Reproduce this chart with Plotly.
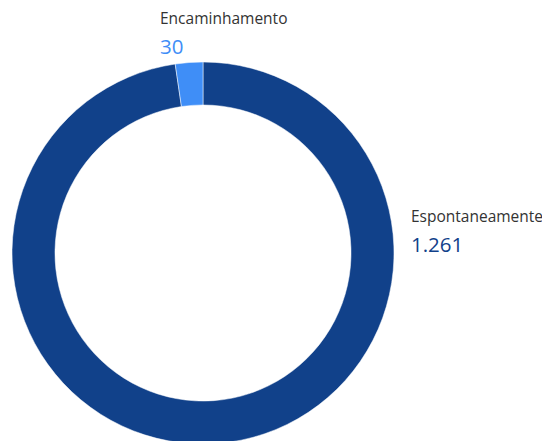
import plotly.graph_objects as go

categories = ["Espontaneamente", "Encaminhamento"]
values = [1261, 30]
value_labels = ["1.261", "30"]
colors = ["#11418A", "#3F8EF7"]

fig = go.Figure(go.Pie(
    labels=categories,
    values=values,
    hole=0.775,
    sort=False,
    direction="clockwise",
    rotation=0,
    marker=dict(colors=colors, line=dict(color="white", width=0.5)),
    textinfo="none",
    hoverinfo="label+value",
    showlegend=False,
))

font_family = "'Open Sans', Lato, sans-serif"
OFF = 8  # page body margin
label_pos = [(412 - OFF - 3, 209 - OFF - 6), (161 - OFF - 3, 11 - OFF - 6)]
for (px, py), cat, vl, col in zip(label_pos, categories, value_labels, colors):
    fig.add_annotation(x=px / 550, y=1 - py / 445, xref="paper", yref="paper",
                       xanchor="left", yanchor="top", text=cat, showarrow=False,
                       font=dict(family=font_family, size=15.5, color="#333333"))
    fig.add_annotation(x=px / 550, y=1 - (py + 25) / 445, xref="paper", yref="paper",
                       xanchor="left", yanchor="top", text=vl, showarrow=False,
                       font=dict(family=font_family, size=20.5, color=col))

fig.update_layout(
    width=550, height=445,
    margin=dict(l=0, r=0, t=0, b=0),
    paper_bgcolor="white", plot_bgcolor="white",
)
fig.data[0].domain = dict(x=[(12 - OFF) / 550, (394 - OFF) / 550],
                          y=[1 - (444 - OFF) / 445, 1 - (62 - OFF) / 445])
fig.write_html("out.html")
